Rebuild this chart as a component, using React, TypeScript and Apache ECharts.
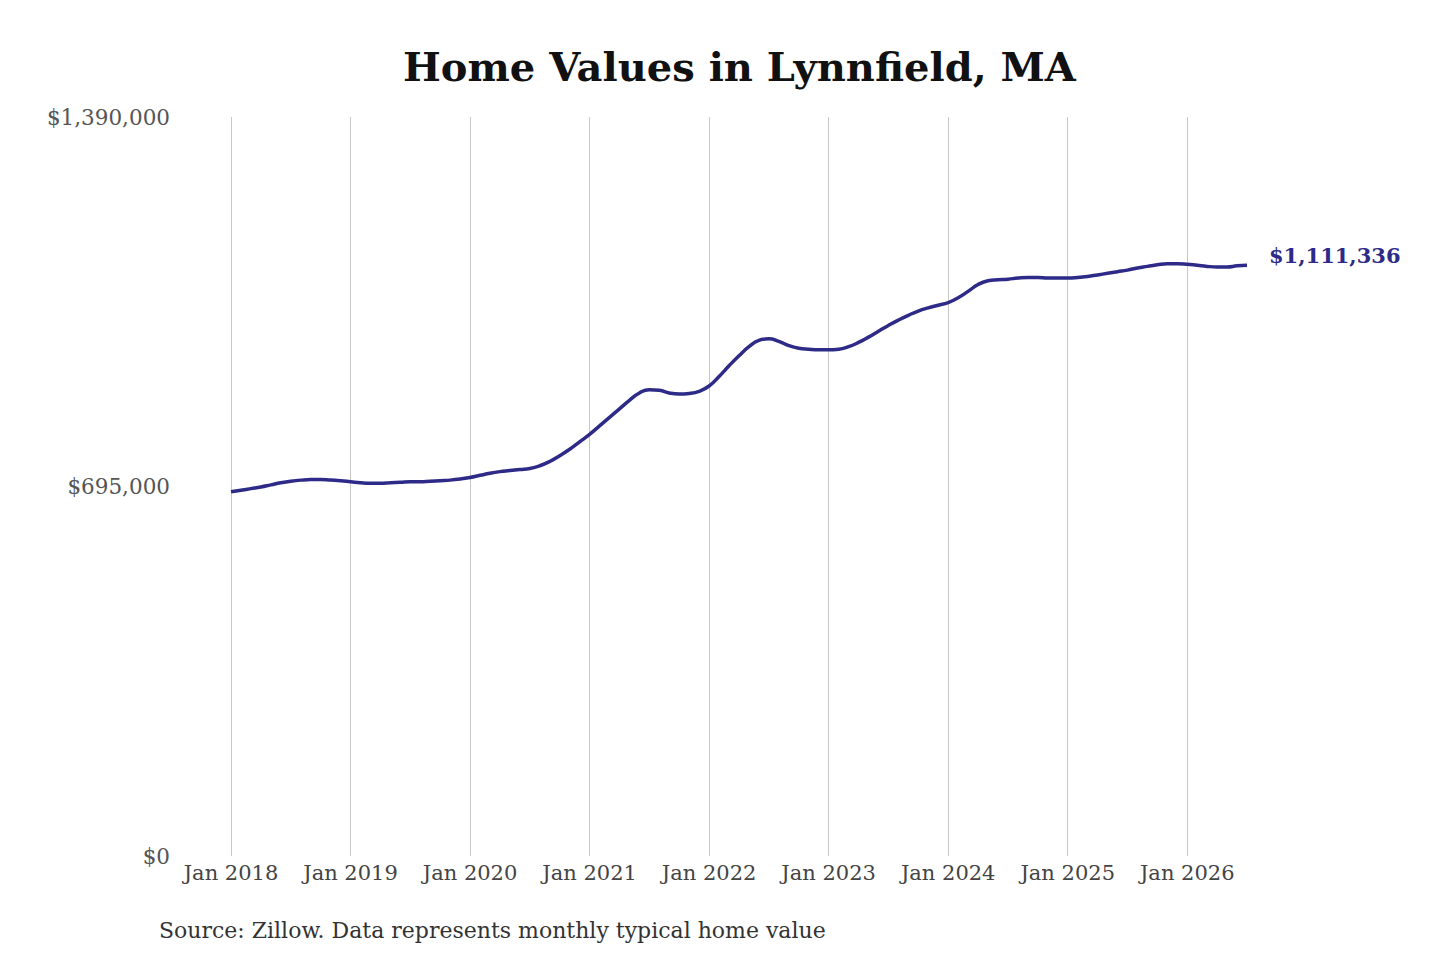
import React, { useEffect, useRef } from 'react';
import * as echarts from 'echarts';

// monthly typical home value, Jan 2018 .. Jul 2026
const startYear = 2018;
const homeValues = [
  685000, 688000, 691000, 694000, 698000, 702000, 705000, 707000, 708000, 708000, 707000, 706000,
  704000, 702000, 701000, 701000, 702000, 703000, 704000, 704000, 705000, 706000, 707000, 709000,
  712000, 716000, 720000, 723000, 725000, 727000, 729000, 734000, 742000, 753000, 765000, 779000,
  793000, 809000, 825000, 841000, 857000, 871000, 877000, 876000, 871000, 869000, 870000, 874000,
  884000, 902000, 922000, 941000, 958000, 970000, 973000, 968000, 960000, 955000, 953000, 952000,
  952000, 953000, 958000, 966000, 976000, 987000, 998000, 1008000, 1017000, 1025000, 1031000, 1036000,
  1041000, 1050000, 1062000, 1075000, 1082000, 1084000, 1085000, 1087000, 1088000, 1088000, 1087000, 1087000,
  1087000, 1088000, 1090000, 1093000, 1096000, 1099000, 1102000, 1106000, 1109000, 1112000, 1114000, 1114000,
  1113000, 1111000, 1109000, 1108000, 1108000, 1110000, 1111336,
];
const monthNames = ['Jan', 'Feb', 'Mar', 'Apr', 'May', 'Jun', 'Jul', 'Aug', 'Sep', 'Oct', 'Nov', 'Dec'];
const months = homeValues.map((_, i) => `${monthNames[i % 12]} ${startYear + Math.floor(i / 12)}`);
const yTicks = [0, 695000, 1390000];

const titleText = 'Home Values in Lynnfield, MA';
const sourceText = 'Source: Zillow. Data represents monthly typical home value';

const fmt = (v: number) => '$' + v.toLocaleString('en-US');
const isJan = (i: number) => i % 12 === 0;

const App: React.FC = () => {
  const chartRef = useRef<HTMLDivElement>(null);

  useEffect(() => {
    const chart = echarts.init(chartRef.current!, null, { renderer: 'svg' });
    const font = 'DejaVu Serif';

    const option = {
      animation: false,
      backgroundColor: '#ffffff',
      textStyle: { fontFamily: font },
      title: {
        text: titleText,
        left: 398,
        top: 41,
        textStyle: { fontFamily: font, fontSize: 40, fontWeight: 'bold', color: '#111' },
      },
      graphic: [{
        type: 'text',
        left: 159,
        top: 919,
        style: { text: sourceText, fontFamily: font, fontSize: 22, fill: '#333' },
      }],
      grid: { left: 231, right: 193, top: 117, bottom: 104, containLabel: false },
      xAxis: {
        type: 'category',
        data: months,
        boundaryGap: false,
        axisLine: { show: false },
        axisTick: { show: false },
        axisLabel: {
          interval: (i: number) => isJan(i),
          color: '#444',
          fontSize: 21,
          fontFamily: font,
          margin: 6,
        },
        splitLine: {
          show: true,
          interval: (i: number) => isJan(i),
          lineStyle: { color: '#c8c8c8', width: 1 },
        },
      },
      yAxis: {
        type: 'value',
        min: yTicks[0],
        max: yTicks[2],
        interval: yTicks[1],
        axisLine: { show: false },
        axisTick: { show: false },
        splitLine: { show: false },
        axisLabel: {
          formatter: (v: number) => fmt(v),
          color: '#555',
          fontSize: 21.5,
          fontFamily: font,
          margin: 61,
        },
      },
      series: [{
        type: 'line',
        data: homeValues,
        smooth: true,
        showSymbol: false,
        lineStyle: { color: '#2d2a88', width: 3.5 },
        endLabel: {
          show: true,
          formatter: () => fmt(homeValues[homeValues.length - 1]),
          color: '#2d2a88',
          fontWeight: 'bold',
          fontSize: 21,
          fontFamily: font,
          distance: 22,
          offset: [0, -10],
        },
      }],
    };

    chart.setOption(option);
    const handleResize = () => chart.resize();
    window.addEventListener('resize', handleResize);
    return () => {
      window.removeEventListener('resize', handleResize);
      chart.dispose();
    };
  }, []);

  return (
    <div
      ref={chartRef}
      style={{ position: 'absolute', left: 0, top: 0, width: '1440px', height: '960px' }}
    />
  );
};

export default App;
